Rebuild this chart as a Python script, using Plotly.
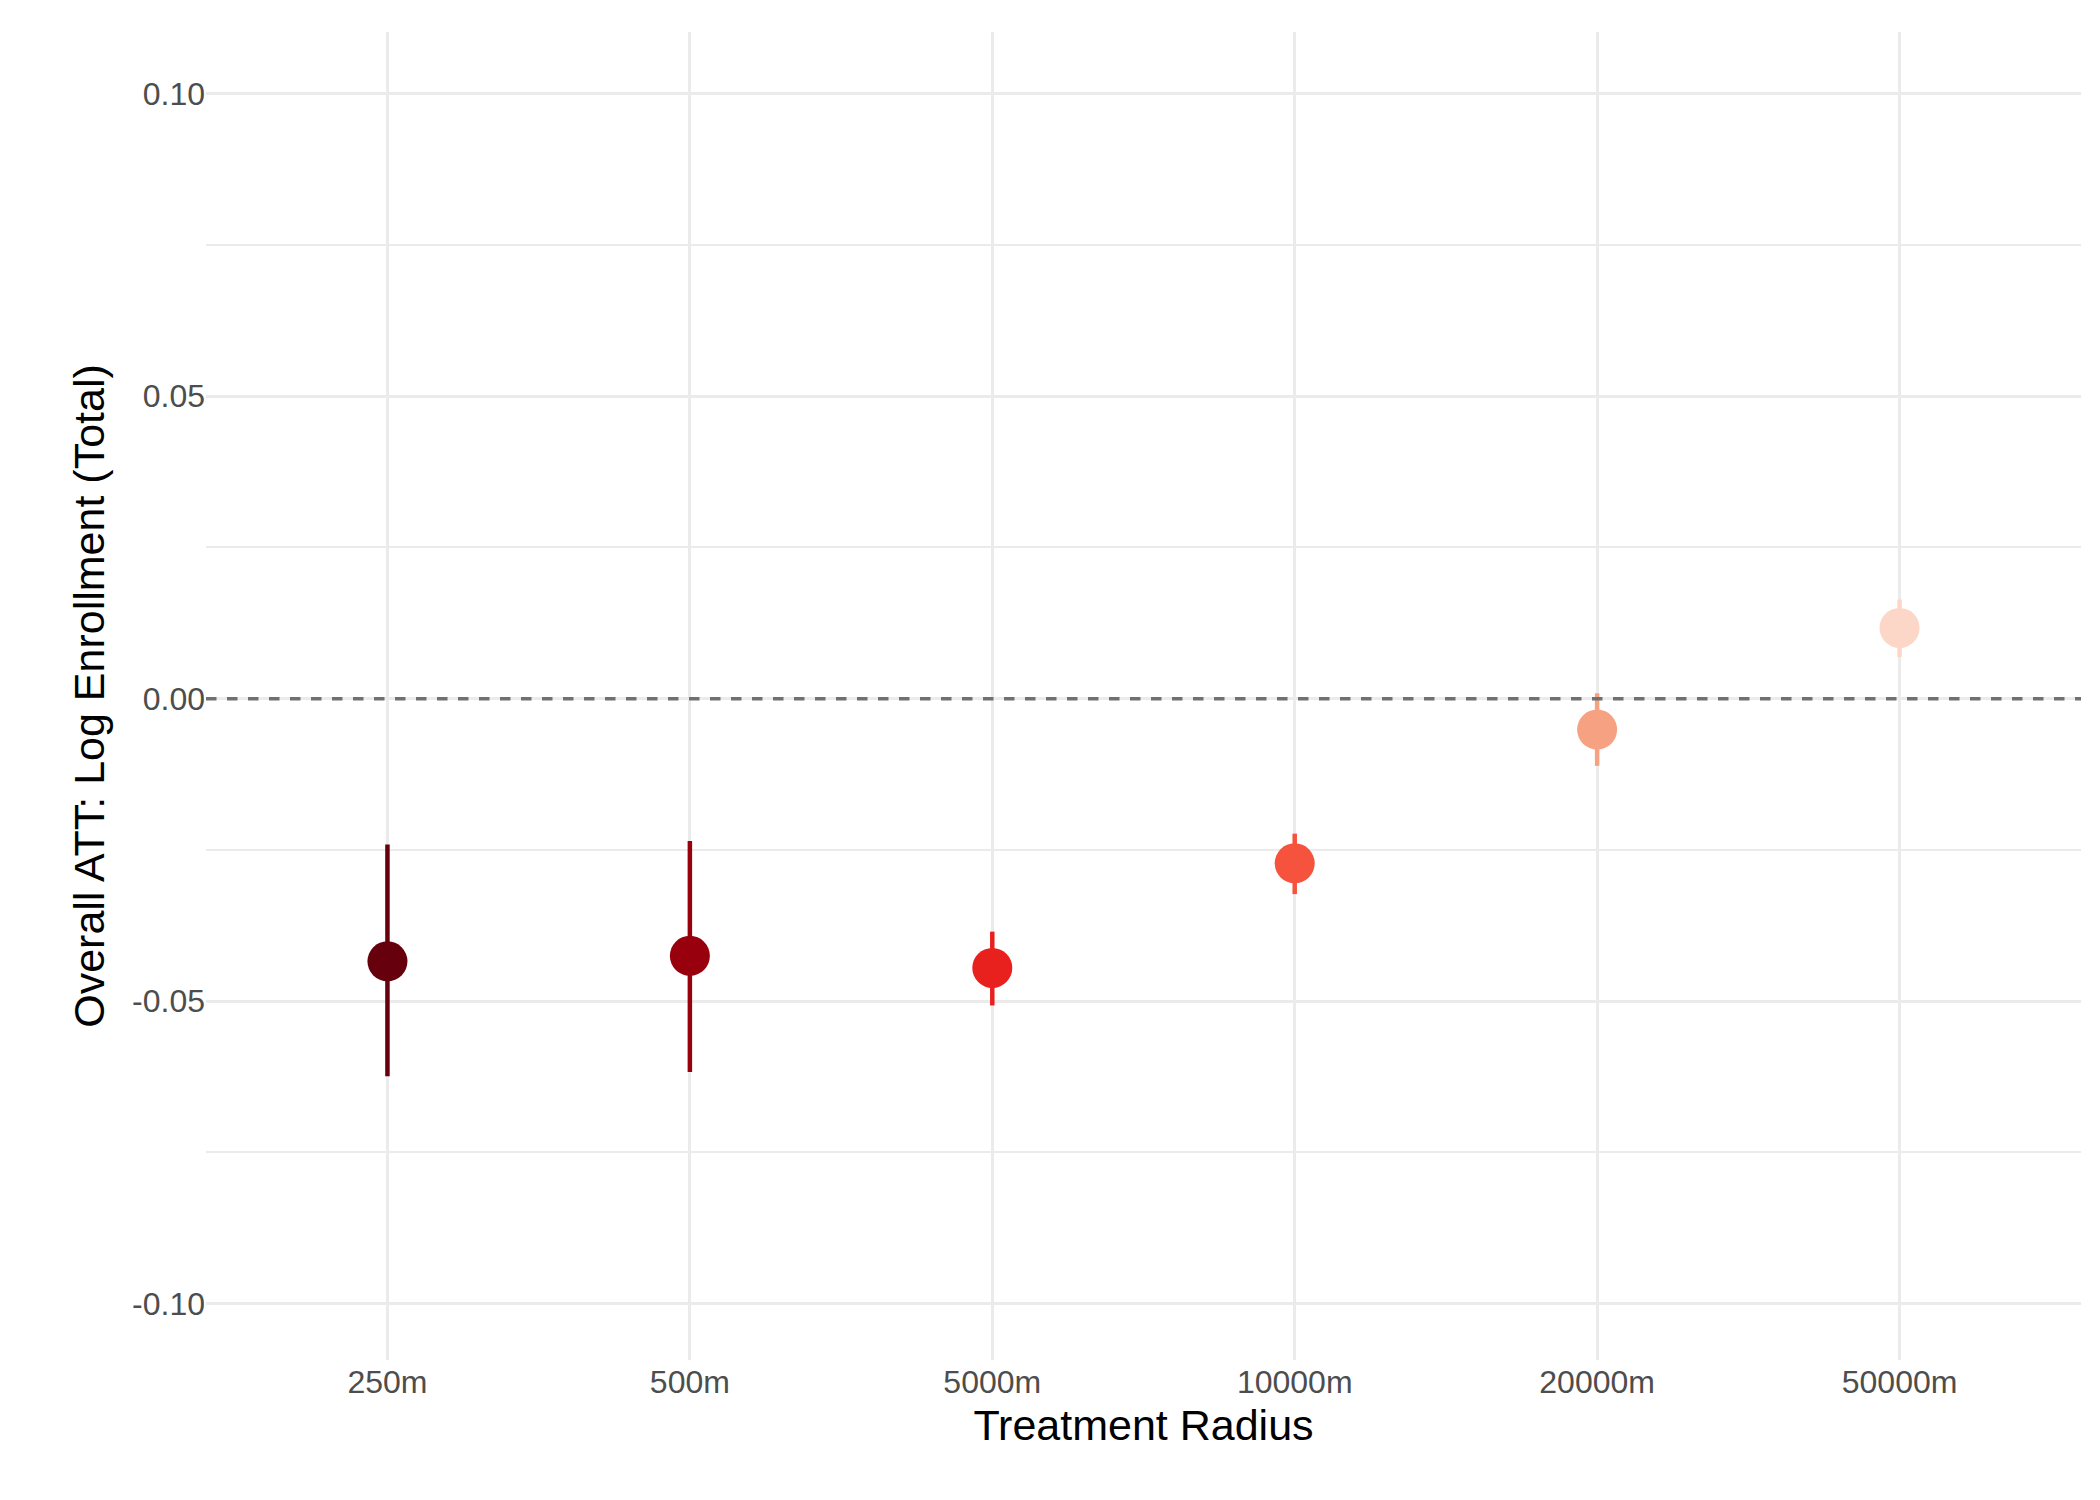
import plotly.graph_objects as go

radii = ["250m", "500m", "5000m", "10000m", "20000m", "50000m"]
att = [-0.0434, -0.0425, -0.0445, -0.0272, -0.0051, 0.0117]
upper = [-0.0241, -0.0235, -0.0385, -0.0223, 0.0009, 0.0164]
lower = [-0.0624, -0.0617, -0.0507, -0.0323, -0.0111, 0.0069]
colors = ["#67000D", "#99000D", "#E8211F", "#F5533D", "#F7A183", "#FCD6C6"]

fig = go.Figure()
for r, a, u, l, c in zip(radii, att, upper, lower, colors):
    fig.add_trace(go.Scatter(
        x=[r], y=[a], mode="markers",
        marker=dict(size=40, color=c),
        error_y=dict(type="data", symmetric=False, array=[u - a], arrayminus=[a - l],
                     color=c, thickness=4.5, width=0),
        showlegend=False))

fig.add_hline(y=0, line=dict(color="#707070", width=3.5, dash="dash"))

fig.update_layout(
    width=2100, height=1500, plot_bgcolor="white", paper_bgcolor="white",
    margin=dict(l=198, r=27, t=24, b=148),
    font=dict(family="Liberation Sans, Arial", size=32, color="#4d4d4d"),
    xaxis=dict(categoryorder="array", categoryarray=radii, range=[-0.6, 5.6],
               showgrid=True, gridcolor="#ebebeb", gridwidth=3, zeroline=False,
               ticks="", title=dict(text="Treatment Radius", font=dict(size=43, color="black"), standoff=10)),
    yaxis=dict(range=[-0.1093, 0.1102], tickvals=[-0.1, -0.05, 0, 0.05, 0.1],
               ticktext=["-0.10", "-0.05", "0.00", "0.05", "0.10"],
               showgrid=True, gridcolor="#ebebeb", gridwidth=3, zeroline=False,
               minor=dict(tickvals=[-0.075, -0.025, 0.025, 0.075], showgrid=True,
                          gridcolor="#ebebeb", gridwidth=1.5),
               title=dict(text="Overall ATT: Log Enrollment (Total)", font=dict(size=43, color="black"), standoff=14)),
)
fig.write_html("out.html")
